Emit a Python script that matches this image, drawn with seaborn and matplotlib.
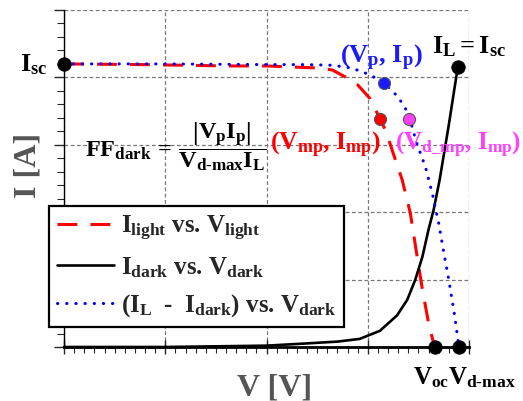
import matplotlib
matplotlib.use("Agg")
import matplotlib.pyplot as plt
from matplotlib.ticker import MultipleLocator, NullFormatter
import seaborn as sns

# I-V curve of the illuminated cell
v_light = [0, 0.8, 1.6, 2.0, 2.33, 2.5, 2.65, 2.8, 2.9, 3.02, 3.10, 3.18, 3.25, 3.34, 3.42, 3.49, 3.54, 3.60, 3.66]
i_light = [4.2, 4.19, 4.17, 4.17, 4.15, 4.14, 4.11, 3.99, 3.89, 3.69, 3.45, 3.2, 2.88, 2.48, 1.99, 1.32, 0.85, 0.36, 0.0]

# dark I-V curve
v_dark = [0, 1.0, 2.0, 2.36, 2.7, 2.92, 3.12, 3.29, 3.39, 3.47, 3.54, 3.60, 3.65, 3.71, 3.80, 3.89]
i_dark = [0, 0, 0.02, 0.05, 0.08, 0.12, 0.24, 0.47, 0.70, 1.0, 1.34, 1.74, 2.03, 2.48, 3.29, 4.16]

# I_L - I_dark plotted against V_dark
v_diff = [0, 1.0, 2.0, 2.4, 2.65, 2.84, 3.02, 3.16, 3.30, 3.40, 3.48, 3.57, 3.64, 3.70, 3.75, 3.80, 3.86, 3.90]
i_diff = [4.2, 4.2, 4.19, 4.19, 4.18, 4.14, 4.04, 3.92, 3.71, 3.47, 3.04, 2.67, 2.26, 1.84, 1.41, 1.0, 0.45, 0.0]

# characteristic points
isc_pt = (0.0, 4.2)
il_pt = (3.89, 4.16)
voc_pt = (3.66, 0.0)
vdmax_pt = (3.90, 0.0)
p_pt = (3.16, 3.92)
mp_pt = (3.12, 3.38)
dmp_pt = (3.41, 3.38)

legend_labels = [r"$I_{light}$ vs. $V_{light}$",
                 r"$I_{dark}$ vs. $V_{dark}$",
                 r"($I_L$  -  $I_{dark}$) vs. $V_{dark}$"]

sns.set_style("white")
plt.rcParams.update({
    "font.family": ["Liberation Serif", "DejaVu Serif"],
    "font.weight": "bold",
    "mathtext.fontset": "custom",
    "mathtext.rm": "Liberation Serif:bold",
    "mathtext.it": "Liberation Serif:bold",
    "mathtext.bf": "Liberation Serif:bold",
    "mathtext.sf": "Liberation Serif:bold",
})

fig = plt.figure(figsize=(5.23, 4.01), dpi=100)
ax = fig.add_axes([64 / 523, 54 / 401, 405 / 523, 337 / 401])

sns.lineplot(x=v_light, y=i_light, ax=ax, estimator=None, sort=False,
             color="#ff0000", lw=2.2, linestyle=(0, (6.5, 4.3)), zorder=3)
sns.lineplot(x=v_dark, y=i_dark, ax=ax, estimator=None, sort=False,
             color="black", lw=1.9, zorder=3, clip_on=False)
sns.lineplot(x=v_diff, y=i_diff, ax=ax, estimator=None, sort=False,
             color="#0000ff", lw=2.2, linestyle=(0, (0.1, 2.9)),
             dash_capstyle="round", zorder=3)
line_handles = list(ax.lines[:3])

# black reference points
bx = [isc_pt[0], il_pt[0], voc_pt[0], vdmax_pt[0]]
by = [isc_pt[1], il_pt[1], voc_pt[1], vdmax_pt[1]]
sns.scatterplot(x=bx, y=by, ax=ax, color="black", s=95, edgecolor="black",
                linewidth=0.5, zorder=5, clip_on=False)

# coloured operating points
for pt, col in [(p_pt, "#1a1aff"), (mp_pt, "#ff0000"), (dmp_pt, "#ff40ff")]:
    sns.scatterplot(x=[pt[0]], y=[pt[1]], ax=ax, color=col, s=75,
                    edgecolor="#555555", linewidth=0.8, zorder=5)

ax.set_xlim(0, 4)
ax.set_ylim(0, 5)
ax.xaxis.set_major_locator(MultipleLocator(1))
ax.xaxis.set_minor_locator(MultipleLocator(0.1))
ax.yaxis.set_major_locator(MultipleLocator(1))
ax.yaxis.set_minor_locator(MultipleLocator(0.2))
ax.xaxis.set_major_formatter(NullFormatter())
ax.yaxis.set_major_formatter(NullFormatter())
ax.tick_params(axis="x", which="major", direction="inout", length=10, width=1, bottom=True)
ax.tick_params(axis="x", which="minor", direction="out", length=4, width=0.8, bottom=True)
ax.tick_params(axis="y", which="major", direction="out", length=7, width=1, left=True)
ax.tick_params(axis="y", which="minor", direction="out", length=5, width=0.8, left=True)
ax.grid(True, which="major", color="#777777", linestyle=(0, (3, 2)), lw=0.9)
for s in ("top", "right"):
    ax.spines[s].set_visible(False)
ax.spines["left"].set_color("black")
ax.spines["left"].set_linewidth(1.0)
ax.spines["bottom"].set_color("black")
ax.spines["bottom"].set_linewidth(2.0)
ax.set_xlabel("")
ax.set_ylabel("")

leg = ax.legend(handles=line_handles, labels=legend_labels, loc="upper left",
                bbox_to_anchor=(49 / 523, 1 - 206 / 401), bbox_transform=fig.transFigure,
                fontsize=18, handlelength=2.3, handletextpad=0.3, labelspacing=0.5,
                borderpad=0.3, borderaxespad=0, fancybox=False, framealpha=1,
                edgecolor="black")
leg.get_frame().set_linewidth(1.6)
leg.set_zorder(4)

# annotations
ax.text(-0.17, 4.09, r"$I_{sc}$", ha="right", va="baseline", fontsize=19, color="black")
ax.text(3.63, 4.36, r"$I_L = I_{sc}$", ha="left", va="baseline", fontsize=19, color="black")
ax.text(2.73, 4.21, r"($V_p$, $I_p$)", ha="left", va="baseline", fontsize=19, color="#1a1aff")
ax.text(2.03, 2.92, r"($V_{mp}$, $I_{mp}$)", ha="left", va="baseline", fontsize=18.5, color="#ff0000")
ax.text(3.27, 2.92, r"($V_{d\_mp}$, $I_{mp}$)", ha="left", va="baseline", fontsize=18, color="#ff40ff")
ax.text(0.21, 2.98, r"$FF_{dark}\,=\,\dfrac{\left|V_pI_p\right|}{V_{\text{d-max}}I_L}$",
        ha="left", va="center", fontsize=17.5, color="black")
ax.text(3.45, -0.56, r"$V_{oc}V_{\text{d-max}}$", ha="left", va="baseline", fontsize=18, color="black")

fig.text(275 / 523, 1 - 395 / 401, "V [V]", ha="center", va="baseline", fontsize=23, color="#555555")
fig.text(28 / 523, 1 - 165 / 401, "I [A]", ha="center", va="center", rotation=90,
         fontsize=23, color="#555555")

fig.savefig("out.png", dpi=100)
